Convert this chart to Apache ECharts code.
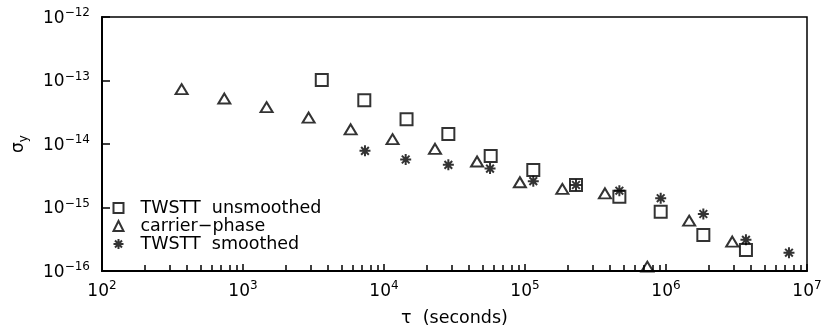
<!DOCTYPE html>
<html>
<head>
<meta charset="utf-8">
<script src="https://cdn.jsdelivr.net/npm/echarts@6/dist/echarts.min.js"></script>
<style>
  html, body { margin: 0; padding: 0; background: #fff; }
  #chart { width: 830px; height: 329px; }
</style>
</head>
<body>
<div id="chart"></div>
<script>
// carrier-phase (triangles)
var tauCarrier = [367, 737, 1470, 2920, 5800, 11500, 23000, 45700, 92000, 184000, 369000, 737000, 1460000, 2950000];
var sigCarrier = [7.3e-14, 5.2e-14, 3.8e-14, 2.6e-14, 1.7e-14, 1.19e-14, 8.4e-15, 5.3e-15, 2.5e-15, 1.96e-15, 1.67e-15, 1.17e-16, 6.2e-16, 2.9e-16];
// TWSTT unsmoothed (squares)
var tauUnsm = [3620, 7250, 14450, 28600, 57100, 114500, 230000, 467000, 917000, 1840000, 3690000];
var sigUnsm = [1.02e-13, 4.9e-14, 2.45e-14, 1.44e-14, 6.5e-15, 3.9e-15, 2.26e-15, 1.48e-15, 8.6e-16, 3.7e-16, 2.14e-16];
// TWSTT smoothed (stars)
var tauSm = [7330, 14250, 28600, 56500, 114500, 230000, 467000, 917000, 1840000, 3690000, 7450000];
var sigSm = [7.8e-15, 5.7e-15, 4.7e-15, 4.1e-15, 2.6e-15, 2.26e-15, 1.84e-15, 1.40e-15, 7.9e-16, 3.1e-16, 1.94e-16];

var xDecades = [2, 3, 4, 5, 6, 7];
var seriesNames = ['TWSTT  unsmoothed', 'carrier\u2212phase', 'TWSTT  smoothed'];

var FONT = 'DejaVu Sans';
var starPath = 'path://M0,-10L0,10M-10,0L10,0M-7,-7L7,7M-7,7L7,-7';

function pairs(xs, ys) {
	return xs.map(function (x, i) { return [x, ys[i]]; });
}

// minor ticks of the log x axis, in log10 units
var minorTicks = [];
xDecades.forEach(function (d) {
	for (var k = 1; k <= 9; k++) {
		var v = d + Math.log10(k);
		if (v <= 7) minorTicks.push(v);
	}
});

function powLabel(v) {
	var e = Math.round(Math.log10(v));
	var s = e < 0 ? '\u2212' + (-e) : '' + e;
	return '{b|10}{s|' + s + '}';
}

var labelRich = {
	b: { fontSize: 17, lineHeight: 20, verticalAlign: 'bottom', fontFamily: FONT, color: '#000' },
	s: { fontSize: 12, lineHeight: 12, verticalAlign: 'top', fontFamily: FONT, color: '#000' }
};

var myChart = echarts.init(document.getElementById('chart'));

var option = {
	animation: false,
	backgroundColor: '#fff',
	grid: {
		left: 102, right: 23, top: 17, bottom: 58,
		outerBoundsMode: 'none',
		show: true, borderColor: '#000', borderWidth: 1.5
	},
	legend: {
		orient: 'vertical',
		left: 111, top: 199, padding: 0,
		itemWidth: 10, itemHeight: 10, itemGap: 0,
		textStyle: { fontSize: 17.5, lineHeight: 18, fontFamily: FONT, color: '#000', padding: [0, 0, 0, 12] },
		data: seriesNames
	},
	xAxis: [{
		type: 'log', logBase: 10, min: 100, max: 1e7,
		name: '\u03c4  (seconds)', nameLocation: 'middle', nameGap: 38,
		nameTextStyle: { fontSize: 17.5, fontFamily: FONT, color: '#000' },
		axisLine: { lineStyle: { color: '#000', width: 2 } },
		axisTick: { inside: true, length: 7, lineStyle: { color: '#000', width: 1.5 } },
		axisLabel: { margin: 9, formatter: powLabel, rich: labelRich },
		splitLine: { show: false }
	}, {
		type: 'value', min: 2, max: 7, position: 'bottom', show: true,
		axisLine: { show: true, lineStyle: { color: 'rgba(0,0,0,0)' } },
		axisTick: { show: true, inside: true, length: 6, customValues: minorTicks, lineStyle: { color: '#000', width: 1.5 } },
		axisLabel: { show: false, customValues: minorTicks },
		splitLine: { show: false }
	}],
	yAxis: {
		type: 'log', logBase: 10, min: 1e-16, max: 1e-12,
		name: '{g|\u03c3}{y|y}', nameLocation: 'middle', nameGap: 72, nameRotate: 90,
		nameTextStyle: {
			rich: {
				g: { fontSize: 17, fontFamily: FONT, color: '#000', lineHeight: 20, verticalAlign: 'top' },
				y: { fontSize: 12, fontFamily: FONT, color: '#000', verticalAlign: 'bottom' }
			}
		},
		axisLine: { lineStyle: { color: '#000', width: 2 } },
		axisTick: { inside: true, length: 8, lineStyle: { color: '#000', width: 1.5 } },
		axisLabel: { margin: 12, formatter: powLabel, rich: labelRich },
		splitLine: { show: false }
	},
	series: [{
		name: seriesNames[0],
		type: 'scatter',
		symbol: 'rect', symbolSize: 12,
		itemStyle: { color: 'none', borderColor: '#000', borderWidth: 2 },
		data: pairs(tauUnsm, sigUnsm)
	}, {
		name: seriesNames[1],
		type: 'scatter',
		symbol: 'triangle', symbolSize: [12, 10],
		itemStyle: { color: 'none', borderColor: '#000', borderWidth: 2 },
		data: pairs(tauCarrier, sigCarrier)
	}, {
		name: seriesNames[2],
		type: 'scatter',
		symbol: starPath, symbolSize: 11,
		itemStyle: { color: 'none', borderColor: '#000', borderWidth: 2 },
		data: pairs(tauSm, sigSm)
	}]
};

myChart.setOption(option);
</script>
</body>
</html>
